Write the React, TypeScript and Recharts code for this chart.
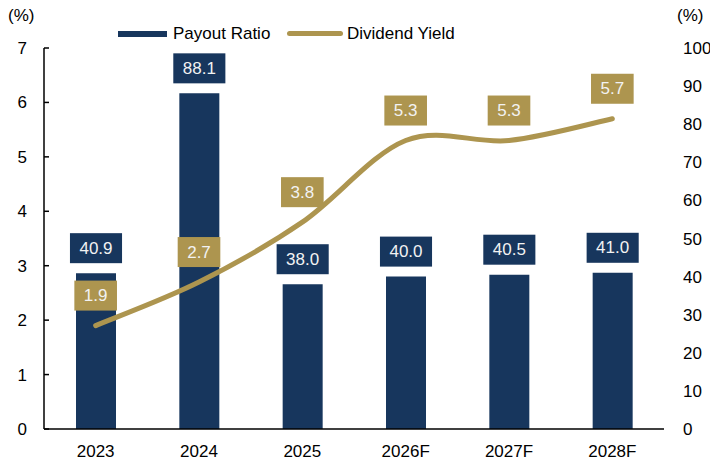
import React from "react";
import { ComposedChart, Bar, Line, XAxis, YAxis, LabelList } from "recharts";

const years = ["2023", "2024", "2025", "2026F", "2027F", "2028F"];
const payoutRatio = [40.9, 88.1, 38.0, 40.0, 40.5, 41.0];
const dividendYield = [1.9, 2.7, 3.8, 5.3, 5.3, 5.7];
const leftTicks = [0, 1, 2, 3, 4, 5, 6, 7];
const rightTicks = [0, 10, 20, 30, 40, 50, 60, 70, 80, 90, 100];
const seriesNames = ["Payout Ratio", "Dividend Yield"];

const NAVY = "#17365D";
const GOLD = "#AD954F";
const FONT = "'Liberation Sans', Arial, sans-serif";
const FS = 17;

const data = years.map((year, i) => ({
  year,
  payout: payoutRatio[i],
  yield: dividendYield[i],
}));

// excel-style smoothed line (catmull-rom through the points)
function smoothCurve(context: any) {
  let pts: number[][] = [];
  return {
    areaStart() {},
    areaEnd() {},
    lineStart() {
      pts = [];
    },
    point(x: number, y: number) {
      pts.push([+x, +y]);
    },
    lineEnd() {
      if (!pts.length) return;
      context.moveTo(pts[0][0], pts[0][1]);
      for (let i = 0; i < pts.length - 1; i++) {
        const p0 = pts[i - 1] || pts[i];
        const p1 = pts[i];
        const p2 = pts[i + 1];
        const p3 = pts[i + 2] || p2;
        context.bezierCurveTo(
          p1[0] + (p2[0] - p0[0]) / 6,
          p1[1] + (p2[1] - p0[1]) / 6,
          p2[0] - (p3[0] - p1[0]) / 6,
          p2[1] - (p3[1] - p1[1]) / 6,
          p2[0],
          p2[1]
        );
      }
    },
  };
}

const textWidth = (s: string) =>
  s.split("").reduce((w, c) => w + (c === "." ? 0.278 : 0.556), 0) * FS;

const boxLabel = (fill: string, lift: number, isBar: boolean) => (props: any) => {
  const { x, y, width, value } = props;
  const txt = Number(value).toFixed(1);
  const cx = isBar ? x + width / 2 : x;
  const cy = y - lift;
  const w = textWidth(txt) + 19;
  const h = 30;
  return (
    <g>
      <rect x={cx - w / 2} y={cy - h / 2} width={w} height={h} fill={fill} />
      <text
        x={cx}
        y={cy}
        textAnchor="middle"
        dominantBaseline="central"
        fill="#F2F2F2"
        fontSize={FS}
        fontFamily={FONT}
      >
        {txt}
      </text>
    </g>
  );
};

const tickStyle = { fill: "#000", fontSize: FS, fontFamily: FONT };

export default function App() {
  return (
    <div style={{ position: "absolute", left: 0, top: 0, width: 710, height: 461, background: "#fff", fontFamily: FONT }}>
      <div style={{ position: "absolute", left: 8, top: 6, fontSize: FS, lineHeight: "20px" }}>(%)</div>
      <div style={{ position: "absolute", left: 677, top: 6, fontSize: FS, lineHeight: "20px" }}>(%)</div>
      <div style={{ position: "absolute", left: 118, top: 31, width: 49, height: 6, background: NAVY }} />
      <div style={{ position: "absolute", left: 173, top: 24, fontSize: FS, lineHeight: "20px" }}>{seriesNames[0]}</div>
      <div style={{ position: "absolute", left: 287, top: 31, width: 56, height: 5, borderRadius: 3, background: GOLD }} />
      <div style={{ position: "absolute", left: 347, top: 24, fontSize: FS, lineHeight: "20px" }}>{seriesNames[1]}</div>
      <ComposedChart width={710} height={461} data={data} margin={{ top: 48, right: 0, left: 0, bottom: 0 }}>
        <XAxis
          dataKey="year"
          height={32}
          tickLine={false}
          tickSize={0}
          tickMargin={16}
          axisLine={{ stroke: "#000", strokeWidth: 1.5 }}
          tick={tickStyle}
          interval={0}
        />
        <YAxis
          yAxisId="left"
          width={44}
          domain={[0, 7]}
          ticks={leftTicks}
          interval={0}
          tickSize={-5}
          tickMargin={22}
          axisLine={{ stroke: "#000", strokeWidth: 1.5 }}
          tickLine={{ stroke: "#000", strokeWidth: 1.5 }}
          tick={tickStyle}
        />
        <YAxis
          yAxisId="right"
          orientation="right"
          width={46}
          domain={[0, 100]}
          ticks={rightTicks}
          interval={0}
          tickSize={0}
          tickMargin={19}
          axisLine={false}
          tickLine={false}
          tick={tickStyle}
        />
        <Bar yAxisId="right" dataKey="payout" fill={NAVY} barSize={40} isAnimationActive={false}>
          <LabelList dataKey="payout" content={boxLabel(NAVY, 25, true)} />
        </Bar>
        <Line
          yAxisId="left"
          dataKey="yield"
          type={smoothCurve as any}
          stroke={GOLD}
          strokeWidth={5}
          strokeLinecap="round"
          dot={false}
          activeDot={false}
          isAnimationActive={false}
        >
          <LabelList dataKey="yield" content={boxLabel(GOLD, 30, false)} />
        </Line>
      </ComposedChart>
    </div>
  );
}
